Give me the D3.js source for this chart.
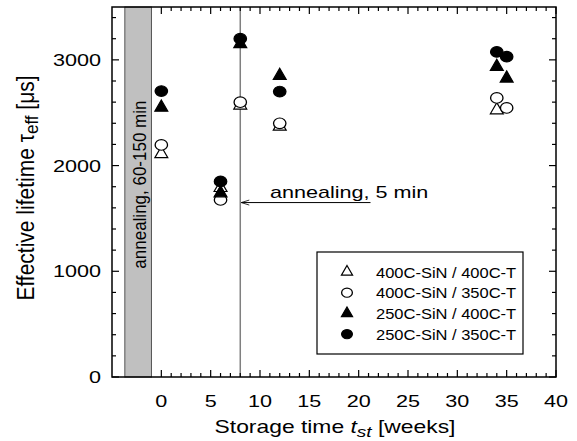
<!DOCTYPE html>
<html>
<head>
<meta charset="utf-8">
<script src="https://cdn.jsdelivr.net/npm/d3@7"></script>
<style>
  body { margin: 0; background: #fff; }
  text { font-family: "Liberation Sans", Arial, sans-serif; fill: #000; }
</style>
</head>
<body>
<svg width="577" height="441"></svg>
<script>
// DATA
const weeks = [0, 6, 8, 12, 34, 35];
const sin400T400 = [2110, 1790, 2570, 2370, 2525, null];
const sin400T350 = [2195, 1675, 2600, 2400, 2640, 2545];
const sin250T400 = [2550, 1740, 3150, 2850, 2935, 2825];
const sin250T350 = [2705, 1850, 3200, 2700, 3075, 3030];
const seriesNames = ['400C-SiN / 400C-T', '400C-SiN / 350C-T', '250C-SiN / 400C-T', '250C-SiN / 350C-T'];
const xTicks = [0, 5, 10, 15, 20, 25, 30, 35, 40];
const yTicks = [0, 1000, 2000, 3000];

const svg = d3.select('svg');
const pLeft = 112, pRight = 556, pTop = 7, pBottom = 377;
const sx = 1.27; // text in the original is a bit wider than plain Arial

const x = d3.scaleLinear().domain([-5, 40]).range([pLeft, pRight]);
const y = d3.scaleLinear().domain([0, 3500]).range([pBottom, pTop]);

// long annealing band
svg.append('rect')
    .attr('x', x(-3.7))
    .attr('y', pTop)
    .attr('width', x(-1) - x(-3.7))
    .attr('height', pBottom - pTop)
    .attr('fill', '#c0c0c0')
    .attr('stroke', '#555')
    .attr('stroke-width', 1);

svg.append('text')
    .attr('transform', `translate(146, ${y(1820)}) rotate(-90) scale(1, 1.12)`)
    .attr('text-anchor', 'middle')
    .style('font-size', '17px')
    .text('annealing, 60-150 min');

// short annealing line
svg.append('line')
    .attr('x1', x(8)).attr('x2', x(8))
    .attr('y1', pTop).attr('y2', pBottom)
    .attr('stroke', '#808080')
    .attr('stroke-width', 1.5);

svg.append('line')
    .attr('x1', x(21.2)).attr('x2', x(8) + 1)
    .attr('y1', y(1650)).attr('y2', y(1650))
    .attr('stroke', '#000')
    .attr('stroke-width', 1);
svg.append('path')
    .attr('d', `M${x(8) + 9},${y(1650) - 2.5} L${x(8) + 1},${y(1650)} L${x(8) + 9},${y(1650) + 2.5}`)
    .attr('fill', 'none')
    .attr('stroke', '#000')
    .attr('stroke-width', 0.8);

svg.append('text')
    .attr('transform', `translate(270, ${y(1650) - 5}) scale(${sx}, 1)`)
    .style('font-size', '17px')
    .text('annealing, 5 min');

// frame
svg.append('rect')
    .attr('x', pLeft).attr('y', pTop)
    .attr('width', pRight - pLeft).attr('height', pBottom - pTop)
    .attr('fill', 'none')
    .attr('stroke', '#000')
    .attr('stroke-width', 1.5);

// ticks, inward, on all four sides
const tickG = svg.append('g').attr('stroke', '#000').attr('stroke-width', 1.2);
d3.range(0, 41, 1).forEach(w => {
  const len = w % 5 === 0 ? 7 : 4;
  tickG.append('line').attr('x1', x(w)).attr('x2', x(w)).attr('y1', pBottom).attr('y2', pBottom - len);
  tickG.append('line').attr('x1', x(w)).attr('x2', x(w)).attr('y1', pTop).attr('y2', pTop + len);
});
d3.range(0, 3501, 200).forEach(v => {
  const len = v % 1000 === 0 ? 7 : 4;
  tickG.append('line').attr('x1', pLeft).attr('x2', pLeft + len).attr('y1', y(v)).attr('y2', y(v));
  tickG.append('line').attr('x1', pRight).attr('x2', pRight - len).attr('y1', y(v)).attr('y2', y(v));
});

// tick labels
svg.append('g').selectAll('text').data(xTicks).join('text')
    .attr('transform', d => `translate(${x(d)}, 407) scale(${sx}, 1)`)
    .attr('text-anchor', 'middle')
    .style('font-size', '17px')
    .text(d => d);

svg.append('g').selectAll('text').data(yTicks).join('text')
    .attr('transform', d => `translate(101, ${y(d) + 6}) scale(${sx}, 1)`)
    .attr('text-anchor', 'end')
    .style('font-size', '17px')
    .text(d => d);

// axis titles
const xt = svg.append('text')
    .attr('transform', `translate(335, 433) scale(${sx}, 1)`)
    .attr('text-anchor', 'middle')
    .style('font-size', '18px');
xt.append('tspan').text('Storage time ');
xt.append('tspan').style('font-style', 'italic').text('t');
xt.append('tspan').style('font-style', 'italic').style('font-size', '15px').attr('dy', 4).text('st');
xt.append('tspan').attr('dy', -4).text(' [weeks]');

const yt = svg.append('text')
    .attr('transform', `translate(34, 188) rotate(-90) scale(1, 1.1)`)
    .attr('text-anchor', 'middle')
    .style('font-size', '21px');
yt.append('tspan').text('Effective lifetime τ');
yt.append('tspan').style('font-size', '17px').attr('dy', 4).text('eff');
yt.append('tspan').attr('dy', -4).text(' [μs]');

// markers
const series = [
  { values: sin400T400, shape: d3.symbolTriangle, filled: false },
  { values: sin400T350, shape: d3.symbolCircle, filled: false },
  { values: sin250T400, shape: d3.symbolTriangle, filled: true },
  { values: sin250T350, shape: d3.symbolCircle, filled: true }
];
const symSize = (s, k) => (s === d3.symbolTriangle ? 72 : 100) * k;
const symScale = s => s === d3.symbolTriangle ? 'scale(1,1)' : 'scale(1.1,0.94)';

series.forEach(s => {
  const pts = weeks.map((w, i) => [w, s.values[i]]).filter(p => p[1] != null);
  svg.append('g').selectAll('path').data(pts).join('path')
      .attr('transform', d => `translate(${x(d[0])}, ${y(d[1])}) ${symScale(s.shape)}`)
      .attr('d', d3.symbol().type(s.shape).size(symSize(s.shape, 1)))
      .attr('fill', s.filled ? '#000' : '#fff')
      .attr('stroke', '#000')
      .attr('stroke-width', 1.2);
});

// legend
const lg = svg.append('g');
lg.append('rect')
    .attr('x', 317).attr('y', 252)
    .attr('width', 206).attr('height', 102)
    .attr('fill', '#fff')
    .attr('stroke', '#000')
    .attr('stroke-width', 1.2);
series.forEach((s, i) => {
  const ry = 272 + i * 20.7;
  lg.append('path')
      .attr('transform', `translate(347, ${ry}) ${symScale(s.shape)}`)
      .attr('d', d3.symbol().type(s.shape).size(symSize(s.shape, 0.75)))
      .attr('fill', s.filled ? '#000' : '#fff')
      .attr('stroke', '#000')
      .attr('stroke-width', 1.2);
  lg.append('text')
      .attr('transform', `translate(376, ${ry + 5.5}) scale(1.1, 1)`)
      .style('font-size', '15px')
      .text(seriesNames[i]);
});
</script>
</body>
</html>
